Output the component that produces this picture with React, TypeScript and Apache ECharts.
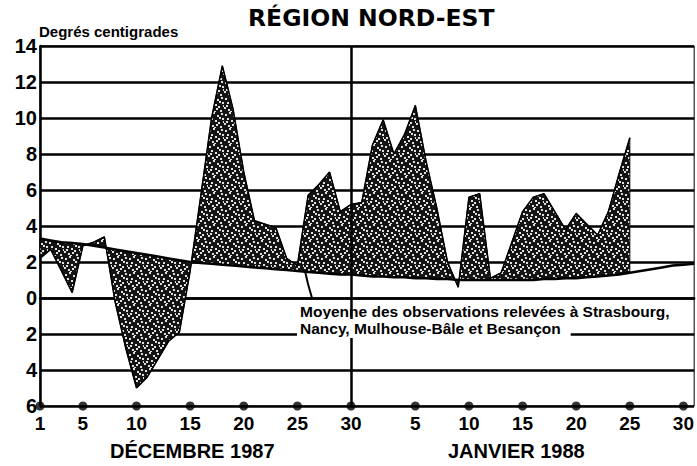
import React, { useEffect, useRef } from "react";
import * as echarts from "echarts";

// Days of the two months shown on the x axis
const DEC_DAYS: number[] = Array.from({ length: 31 }, (_, k) => k + 1);
const JAN_DAYS: number[] = Array.from({ length: 31 }, (_, k) => k + 1);
const CATEGORIES: string[] = [
  ...DEC_DAYS.map((d) => `${d} déc.`),
  ...JAN_DAYS.map((d) => `${d} janv.`),
];

// Labelled ticks
const DEC_TICKS = [1, 5, 10, 15, 20, 25, 30];
const JAN_TICKS = [5, 10, 15, 20, 25, 30];
const TICK_CATEGORIES = [
  ...DEC_TICKS.map((d) => `${d} déc.`),
  ...JAN_TICKS.map((d) => `${d} janv.`),
];

// Observed mean temperature (°C), Dec 1 1987 – Jan 25 1988
const TEMP_DEC = [
  2.2, 2.7, 1.5, 0.3, 2.9, 3.1, 3.4, -0.2, -2.8, -5.0, -4.4, -3.4, -2.4, -1.9, 1.5, 5.7,
  10.0, 12.9, 10.5, 7.0, 4.3, 4.1, 3.9, 2.2, 1.8, 5.7, 6.3, 7.0, 4.8, 5.2, 5.3,
];
const TEMP_JAN = [
  8.5, 9.9, 8.0, 9.1, 10.7, 7.6, 5.0, 2.0, 0.6, 5.6, 5.8, 1.1, 1.4, 3.1, 4.8, 5.6, 5.8,
  4.8, 3.8, 4.7, 4.1, 3.5, 4.8, 6.9, 8.9, null, null, null, null, null, null,
];
const TEMPERATURE: (number | null)[] = [...TEMP_DEC, ...TEMP_JAN];

// Seasonal normal (°C)
const NORMAL_DEC = [
  3.3, 3.2, 3.1, 3.05, 3.0, 2.9, 2.8, 2.7, 2.6, 2.5, 2.4, 2.3, 2.2, 2.1, 2.0, 1.95, 1.9,
  1.85, 1.8, 1.75, 1.7, 1.65, 1.6, 1.55, 1.5, 1.45, 1.4, 1.35, 1.3, 1.3, 1.25,
];
const NORMAL_JAN = [
  1.2, 1.2, 1.15, 1.15, 1.1, 1.1, 1.05, 1.05, 1.0, 1.0, 1.0, 1.0, 1.0, 1.0, 1.0, 1.0, 1.05,
  1.05, 1.1, 1.1, 1.15, 1.2, 1.25, 1.3, 1.4, 1.5, 1.6, 1.7, 1.8, 1.85, 1.9,
];
const NORMAL: number[] = [...NORMAL_DEC, ...NORMAL_JAN];

const FONT = "'Liberation Sans', Arial, Helvetica, sans-serif";
const TITLE_FONT = "'DejaVu Sans', 'Liberation Sans', sans-serif";
const SPECKS: [number, number][] = [
  [1, 2], [5, 0], [9, 3], [13, 1], [3, 6], [7, 8], [11, 5], [15, 9],
  [0, 11], [4, 13], [8, 12], [12, 14], [2, 9], [10, 10], [14, 6], [6, 15],
];

function makePattern() {
  const c = document.createElement("canvas");
  c.width = 16;
  c.height = 16;
  const ctx = c.getContext("2d")!;
  ctx.fillStyle = "#141414";
  ctx.fillRect(0, 0, 16, 16);
  ctx.fillStyle = "#e0e0e0";
  SPECKS.forEach(([x, y]) => ctx.fillRect(x, y, 2, 2));
  return { image: c, repeat: "repeat" } as any;
}

export default function App() {
  const ref = useRef<HTMLDivElement>(null);
  useEffect(() => {
    if (!ref.current) return;
    const chart = echarts.init(ref.current, null, { renderer: "svg" });
    const pattern = makePattern();
    const tickSet = new Set(TICK_CATEGORIES);
    let last = 0;
    TEMPERATURE.forEach((v, i) => {
      if (v != null) last = i;
    });

    chart.setOption({
      animation: false,
      backgroundColor: "#ffffff",
      grid: {
        left: 40,
        right: 1,
        top: 46,
        bottom: 60,
        show: true,
        borderColor: "#000",
        borderWidth: 1,
        backgroundColor: "transparent",
      },
      xAxis: {
        type: "category",
        data: CATEGORIES,
        boundaryGap: false,
        axisLine: { lineStyle: { color: "#000", width: 2.5 } },
        axisTick: { show: false },
        axisLabel: {
          interval: (_i: number, v: string) => tickSet.has(v),
          formatter: (v: string) => v.split(" ")[0],
          color: "#000",
          fontSize: 19,
          fontWeight: "bold",
          fontFamily: FONT,
          margin: 8,
        },
        splitLine: { show: false },
      },
      yAxis: {
        type: "value",
        min: -6,
        max: 14,
        interval: 2,
        axisLine: { show: true, lineStyle: { color: "#000", width: 2.5 } },
        axisTick: { show: false },
        axisLabel: {
          formatter: (v: number) => String(Math.abs(v)),
          color: "#000",
          fontSize: 20,
          fontWeight: "bold",
          fontFamily: FONT,
          margin: 3,
        },
        splitLine: { lineStyle: { color: "#000", width: 2.5 } },
      },
      series: [
        {
          type: "custom",
          data: [[0, 0]],
          z: 2,
          renderItem: (_p: any, api: any) => {
            const pts: number[][] = [];
            for (let i = 0; i <= last; i++) {
              pts.push(api.coord([i, TEMPERATURE[i] as number]));
            }
            for (let i = last; i >= 0; i--) {
              pts.push(api.coord([i, NORMAL[i]]));
            }
            return {
              type: "polygon",
              shape: { points: pts },
              style: { fill: pattern, stroke: "#000", lineWidth: 1 },
            };
          },
        },
        {
          type: "line",
          data: TEMPERATURE,
          z: 3,
          symbol: "none",
          lineStyle: { color: "#000", width: 1.5 },
          markLine: {
            silent: true,
            symbol: "none",
            label: { show: false },
            lineStyle: { color: "#000", width: 2.5, type: "solid" },
            data: [{ xAxis: "30 déc." }],
          },
        },
        {
          type: "line",
          data: NORMAL,
          z: 4,
          symbol: "none",
          lineStyle: { color: "#000", width: 2.5 },
        },
        {
          type: "scatter",
          data: TICK_CATEGORIES.map((c) => [c, -6]),
          z: 5,
          clip: false,
          symbol: "circle",
          symbolSize: 9,
          itemStyle: { color: "#000" },
        },
      ],
      graphic: [
        {
          type: "text",
          left: 248,
          top: 6,
          style: {
            text: "RÉGION NORD-EST",
            font: `bold 23.5px ${TITLE_FONT}`,
            fill: "#000",
          },
        },
        {
          type: "text",
          left: 39,
          top: 24,
          style: {
            text: "Degrés centigrades",
            font: `bold 15px ${FONT}`,
            fill: "#000",
          },
        },
        {
          type: "text",
          left: 110,
          top: 441,
          style: {
            text: "DÉCEMBRE 1987",
            font: `bold 20px ${FONT}`,
            fill: "#000",
          },
        },
        {
          type: "text",
          left: 448,
          top: 441,
          style: {
            text: "JANVIER 1988",
            font: `bold 20px ${FONT}`,
            fill: "#000",
          },
        },
        {
          type: "polyline",
          z: 100,
          shape: { points: [[305, 271], [308, 284], [312, 298]] },
          style: { stroke: "#000", lineWidth: 2, fill: "none" },
        },
        {
          type: "text",
          left: 300,
          top: 303,
          z: 100,
          style: {
            text: "Moyenne des observations relevées à Strasbourg,",
            font: `bold 15.5px ${FONT}`,
            fill: "#000",
          },
        },
        {
          type: "text",
          left: 297,
          top: 319,
          z: 100,
          style: {
            text: "Nancy, Mulhouse-Bâle et Besançon",
            font: `bold 15.5px ${FONT}`,
            fill: "#000",
            backgroundColor: "#fff",
            padding: [1, 10, 2, 3],
          },
        },
      ],
    });
    return () => chart.dispose();
  }, []);
  return (
    <div
      ref={ref}
      style={{ position: "fixed", left: 0, top: 0, width: 697, height: 466 }}
    />
  );
}
